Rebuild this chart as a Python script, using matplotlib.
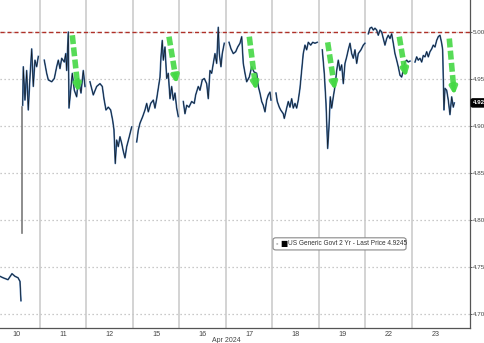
import numpy as np
import matplotlib
matplotlib.use("Agg")
import matplotlib.pyplot as plt
from matplotlib.patches import FancyBboxPatch

plt.rcParams["font.family"] = ["Liberation Sans", "DejaVu Sans"]

# x = fractional trading-session index (0 = Apr 10, 1 = Apr 11, ...)
day_labels = ["10", "11", "12", "15", "16", "17", "18", "19", "22", "23"]

# Apr 10 early session (before the gap)
pre_t = [0.140, 0.204, 0.312, 0.398, 0.462, 0.527, 0.570, 0.591]
pre_v = [4.740, 4.7385, 4.7364, 4.7428, 4.740, 4.7385, 4.7346, 4.714]

# gap jump on Apr 10
gap_t = 0.613
gap_lo, gap_hi = 4.786, 4.920

# main yield series, one list per session (NaN breaks between days)
sessions = [
    ([0.628, 0.641, 0.677, 0.714, 0.748, 0.785, 0.822, 0.856, 0.892, 0.929, 0.964],
     [4.922, 4.963, 4.9275, 4.959, 4.917, 4.952, 4.982, 4.942, 4.970, 4.963, 4.974]),
    ([1.092, 1.144, 1.179, 1.252, 1.308, 1.359, 1.394, 1.430, 1.467, 1.523, 1.553, 1.574,
      1.609, 1.624, 1.667, 1.695, 1.738, 1.789, 1.824, 1.882, 1.931, 1.968],
     [4.970, 4.956, 4.949, 4.947, 4.9505, 4.963, 4.970, 4.961, 4.972, 4.968, 4.977, 4.959,
      5.000, 4.919, 4.942, 4.956, 4.938, 4.931, 4.9505, 4.935, 4.959, 4.942]),
    ([2.075, 2.146, 2.219, 2.290, 2.340, 2.376, 2.419, 2.469, 2.520, 2.563, 2.591, 2.619,
      2.649, 2.684, 2.720, 2.757, 2.792, 2.828, 2.865, 2.920, 2.972],
     [4.947, 4.933, 4.942, 4.945, 4.942, 4.929, 4.917, 4.920, 4.917, 4.906, 4.896, 4.860,
      4.885, 4.878, 4.8885, 4.8815, 4.873, 4.866, 4.878, 4.8885, 4.899]),
    ([3.080, 3.114, 3.151, 3.209, 3.258, 3.295, 3.329, 3.381, 3.437, 3.473, 3.510, 3.544,
      3.581, 3.602, 3.630, 3.652, 3.688, 3.725, 3.759, 3.796, 3.832, 3.867, 3.903, 3.940, 3.974],
     [4.883, 4.8956, 4.903, 4.910, 4.917, 4.924, 4.915, 4.924, 4.9275, 4.919, 4.929, 4.940,
      4.952, 4.9735, 4.991, 4.970, 4.984, 4.9505, 4.956, 4.929, 4.942, 4.9275, 4.935, 4.919, 4.910]),
    ([4.082, 4.118, 4.155, 4.204, 4.262, 4.318, 4.348, 4.404, 4.441, 4.490, 4.533, 4.585,
      4.619, 4.656, 4.692, 4.727, 4.763, 4.800, 4.834, 4.856, 4.892, 4.920, 4.963],
     [4.926, 4.913, 4.922, 4.920, 4.926, 4.924, 4.933, 4.942, 4.938, 4.949, 4.9505, 4.945,
      4.929, 4.959, 4.956, 4.9665, 4.977, 4.9665, 5.005, 4.977, 4.963, 4.977, 4.988]),
    ([5.065, 5.108, 5.157, 5.209, 5.252, 5.301, 5.338, 5.372, 5.409, 5.445, 5.501, 5.553,
      5.602, 5.660, 5.695, 5.731, 5.768, 5.802, 5.839, 5.875, 5.910, 5.946, 5.968],
     [4.989, 4.982, 4.977, 4.979, 4.984, 4.988, 4.995, 4.9665, 4.956, 4.947, 4.952, 4.963,
      4.9575, 4.956, 4.942, 4.935, 4.926, 4.922, 4.915, 4.9275, 4.933, 4.936, 4.9275]),
    ([6.075, 6.103, 6.146, 6.176, 6.232, 6.254, 6.305, 6.340, 6.376, 6.413, 6.447, 6.484,
      6.520, 6.555, 6.591, 6.628, 6.662, 6.699, 6.735, 6.770, 6.822, 6.865, 6.914, 6.963],
     [4.935, 4.926, 4.920, 4.917, 4.913, 4.908, 4.919, 4.926, 4.920, 4.929, 4.919, 4.924,
      4.919, 4.9275, 4.940, 4.959, 4.977, 4.986, 4.981, 4.989, 4.986, 4.989, 4.988, 4.989]),
    ([7.071, 7.114, 7.151, 7.187, 7.215, 7.243, 7.273, 7.308, 7.344, 7.381, 7.415, 7.452,
      7.488, 7.523, 7.559, 7.596, 7.630, 7.667, 7.703, 7.738, 7.774, 7.811, 7.845, 7.903,
      7.953, 7.989],
     [4.981, 4.956, 4.924, 4.876, 4.899, 4.931, 4.919, 4.931, 4.942, 4.959, 4.970, 4.959,
      4.965, 4.945, 4.9665, 4.9735, 4.981, 4.988, 4.977, 4.972, 4.981, 4.9665, 4.977, 4.981,
      4.986, 4.988]),
    ([8.060, 8.097, 8.133, 8.168, 8.204, 8.241, 8.275, 8.312, 8.348, 8.383, 8.419, 8.456,
      8.490, 8.527, 8.563, 8.598, 8.634, 8.671, 8.705, 8.742, 8.778, 8.813, 8.849, 8.886,
      8.920, 8.957],
     [4.998, 5.004, 5.005, 5.002, 5.004, 5.002, 4.9965, 5.002, 5.000, 4.993, 4.986, 4.993,
      4.9965, 4.993, 4.998, 4.988, 4.977, 4.970, 4.963, 4.954, 4.952, 4.959, 4.968, 4.970,
      4.968, 4.969]),
    ([9.065, 9.101, 9.135, 9.172, 9.209, 9.243, 9.280, 9.316, 9.351, 9.387, 9.424, 9.458,
      9.495, 9.531, 9.566, 9.602, 9.639, 9.660, 9.673, 9.688, 9.710, 9.746, 9.781, 9.817,
      9.854, 9.888, 9.910],
     [4.968, 4.9735, 4.970, 4.972, 4.968, 4.975, 4.9735, 4.979, 4.9735, 4.979, 4.982, 4.986,
      4.984, 4.991, 4.995, 4.9965, 4.988, 4.981, 4.949, 4.917, 4.940, 4.938, 4.9275, 4.912,
      4.931, 4.920, 4.9245]),
]

last_price = 4.9245
resistance = 5.00

# green arrows: (t_start, v_start, t_end, v_end)
arrows = [
    (1.695, 4.9965, 1.824, 4.936),
    (3.774, 4.995, 3.940, 4.945),
    (5.501, 4.995, 5.645, 4.938),
    (7.187, 4.989, 7.344, 4.938),
    (8.727, 4.995, 8.871, 4.952),
    (9.802, 4.993, 9.910, 4.933),
]

yticks = [4.70, 4.75, 4.80, 4.85, 4.90, 4.95, 5.00]

fig = plt.figure(figsize=(4.85, 3.43), dpi=100)
ax = fig.add_axes([0.0, 0.0437, 0.969, 0.9563])
ax.set_xlim(0.140, 10.247)
ax.set_ylim(4.685, 5.034)

# grid
for y in yticks:
    ax.axhline(y, color="#b8b8b8", lw=0.9, ls=(0, (1, 2.2)), zorder=0)
for d in range(1, len(day_labels)):
    ax.axvline(d, color="#c8c8c8", lw=1.1, zorder=0)

ax.axhline(resistance, color="#b03028", lw=1.0, ls=(0, (3, 2)), zorder=1)

# series
ax.plot(pre_t, pre_v, color="#4a78b0", lw=1.2, zorder=2)
ax.plot(pre_t, pre_v, color="#101820", lw=0.5, zorder=3)
ax.plot([gap_t, gap_t], [gap_lo, gap_hi], color="#7a7a7a", lw=1.2, zorder=2)

all_t, all_v = [], []
for ts, vs in sessions:
    all_t += ts + [np.nan]
    all_v += vs + [np.nan]
ax.plot(all_t, all_v, color="#4a78b0", lw=1.2, zorder=2)
ax.plot(all_t, all_v, color="#101820", lw=0.5, zorder=3)

# arrows
green = "#45d845"
for t0, v0, t1, v1 in arrows:
    frac = 0.80
    tm = t0 + (t1 - t0) * frac
    vm = v0 + (v1 - v0) * frac
    ax.plot([t0, tm], [v0, vm], color=green, lw=4.0, ls=(0, (1.6, 0.6)),
            solid_capstyle="butt", alpha=0.9, zorder=4)
    ax.annotate("", xy=(t1, v1), xytext=(tm, vm),
                arrowprops=dict(arrowstyle="-|>", color=green, lw=3.0,
                                mutation_scale=10, alpha=0.9,
                                shrinkA=0, shrinkB=0), zorder=4)

# axes styling
for s in ["left", "top"]:
    ax.spines[s].set_visible(False)
ax.spines["right"].set_color("#555555")
ax.spines["bottom"].set_color("#555555")
ax.spines["right"].set_linewidth(0.9)
ax.spines["bottom"].set_linewidth(0.9)

ax.yaxis.tick_right()
ax.set_yticks(yticks)
ax.set_yticklabels([f"{y:.2f}" for y in yticks])
ax.tick_params(axis="y", labelsize=4.5, colors="#444444", length=1.5, width=0.6, pad=0.5)

ax.set_xticks(np.arange(len(day_labels)) + 0.5)
ax.set_xticklabels(day_labels)
ax.tick_params(axis="x", labelsize=5.2, colors="#444444", length=0, pad=2)
ax.annotate("Apr 2024", xy=(5.0, 0), xycoords=("data", "axes fraction"),
            xytext=(0, -6.8), textcoords="offset points", ha="center", va="top",
            fontsize=5.0, color="#444444", annotation_clip=False)

# last-price tag on the right axis
ax.annotate(f"{last_price:.2f}", xy=(1.0, last_price), xycoords=("axes fraction", "data"),
            xytext=(2.0, 0), textcoords="offset points", ha="left", va="center",
            fontsize=4.5, color="white", fontweight="bold",
            bbox=dict(boxstyle="round,pad=0.25", fc="black", ec="black"),
            annotation_clip=False)

# legend box
leg_y = 0.257
ax.add_patch(FancyBboxPatch((0.581, 0.238), 0.283, 0.037, transform=ax.transAxes,
                            boxstyle="round,pad=0.0,rounding_size=0.006",
                            fc="white", ec="#888888", lw=0.8, zorder=5))
ax.text(0.587, leg_y, "\u25aa", transform=ax.transAxes, fontsize=5, color="#bbbbbb",
        va="center", ha="left", zorder=6)
ax.text(0.596, leg_y, "\u25a0", transform=ax.transAxes, fontsize=5.5, color="black",
        va="center", ha="left", family="DejaVu Sans", zorder=6)
ax.text(0.613, leg_y, "US Generic Govt 2 Yr - Last Price 4.9245", transform=ax.transAxes,
        fontsize=4.7, color="#333333", va="center", ha="left", zorder=6)

fig.savefig("out.png", dpi=100)
